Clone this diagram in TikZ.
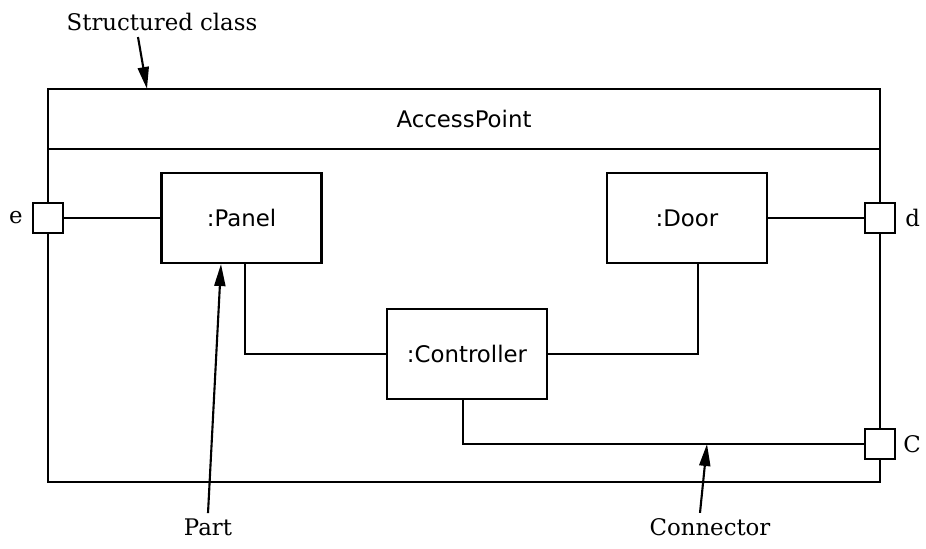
\documentclass[tikz,border=0pt]{standalone}
\usepackage{fontspec}
\setmainfont{DejaVu Serif}
\setsansfont{DejaVu Sans}
\usetikzlibrary{arrows.meta,positioning,calc}
\tikzset{
  classbox/.style={draw, line width=1.2pt, minimum width=16.64cm, inner sep=0pt, outer sep=0pt,
    font=\sffamily\fontsize{13}{15}\selectfont},
  partbox/.style={draw, line width=1.2pt, fill=white, minimum width=3.2cm, minimum height=1.8cm,
    font=\sffamily\fontsize{13}{15}\selectfont},
  portbox/.style={draw, line width=1.2pt, fill=white, minimum size=0.6cm, inner sep=0pt},
  wire/.style={line width=1.2pt},
  callout/.style={-{Triangle[length=4.4mm,width=2.2mm]}, line width=1.2pt},
  note/.style={font=\fontsize{13}{15}\selectfont},
}

\begin{document}
\begin{tikzpicture}
    \useasboundingbox (0,0) rectangle (18.52,-10.98);
    % structured class
    \node[classbox, minimum height=1.2cm, anchor=north west] (title) at (0.96,-1.78) {AccessPoint};
    \node[classbox, minimum height=6.66cm, below=0pt of title] (body) {};
    % parts
    \node[partbox] (panel) at (4.83,-4.36) {:Panel};
    \node[partbox] (door) at (13.74,-4.36) {:Door};
    \node[partbox] (ctrl) at (9.34,-7.08) {:Controller};
    % ports
    \node[portbox, label={[note, label distance=0.06cm]left:e}] (pe) at (body.west |- panel) {};
    \node[portbox, label={[note, label distance=0.06cm]right:d}] (pd) at (body.east |- door) {};
    \node[portbox, label={[note, label distance=0.02cm]right:C}] (pc) at (17.6,-8.88) {};
    % connectors
    \coordinate (ptap) at ($(panel.south)+(0.07,0)$);
    \coordinate (dtap) at ($(door.south)+(0.22,0)$);
    \coordinate (ctap) at ($(ctrl.south)+(-0.08,0)$);
    \draw[wire] (pe) -- (panel);
    \draw[wire] (door) -- (pd);
    \draw[wire] (ptap) -- (ptap |- ctrl.west) -- (ctrl.west);
    \draw[wire] (ctrl.east) -- (dtap |- ctrl.east) -- (dtap);
    \draw[wire] (ctap) -- (ctap |- pc.west) -- (pc.west);
    % annotations
    \node[note] (sclabel) at (3.24,-0.44) {Structured class};
    \node[note, anchor=base] (partlabel) at (4.16,-10.72) {Part};
    \node[note, anchor=base] (connlabel) at (14.2,-10.72) {Connector};
    \draw[callout] ($(sclabel.south)+(-0.48,0)$) -- ($(title.north west)+(1.98,0)$);
    \draw[callout] (partlabel.north) -- ($(panel.south)+(-0.41,0)$);
    \draw[callout] ($(connlabel.north)+(-0.2,0)$) -- ($(ctap |- pc.west)+(4.88,0)$);
\end{tikzpicture}
\end{document}
